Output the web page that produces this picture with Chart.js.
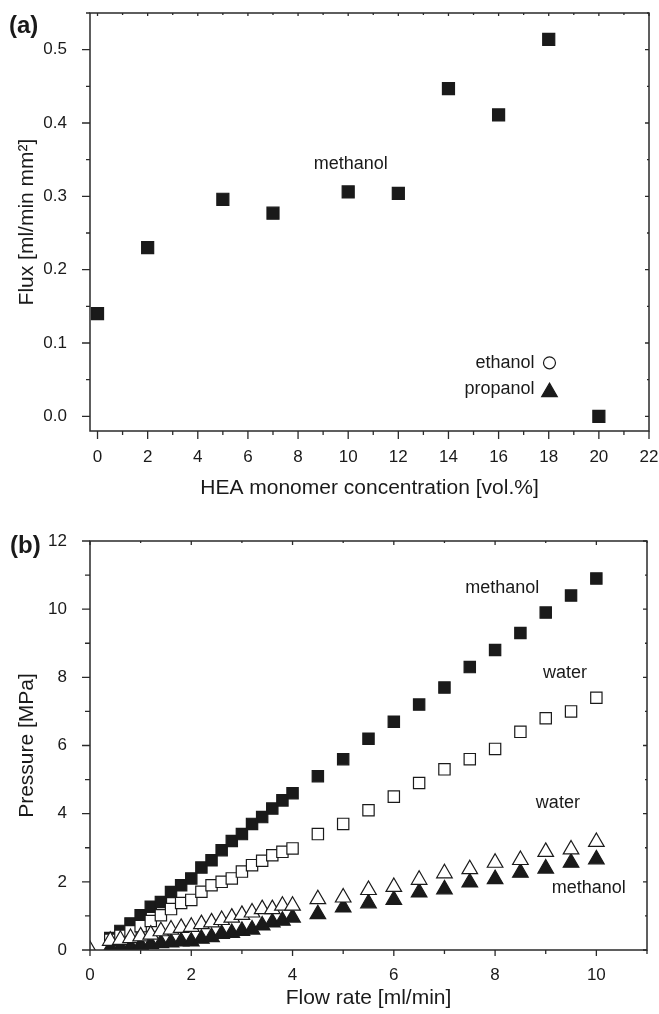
<!DOCTYPE html>
<html>
<head>
<meta charset="utf-8">
<script src="https://cdn.jsdelivr.net/npm/chart.js@4.4.0/dist/chart.umd.min.js"></script>
<style>
  body { margin: 0; background: #fff; }
  canvas { position: absolute; left: 0; }
  #fluxChart { top: 0; }
  #pressureChart { top: 507px; }
</style>
</head>
<body>
<canvas id="fluxChart" width="659" height="507"></canvas>
<canvas id="pressureChart" width="659" height="507"></canvas>
<script>
// (a) flux vs HEA monomer concentration
const heaConc = [0, 2, 5, 7, 10, 12, 14, 16, 18, 20];
const fluxMethanol = [0.14, 0.23, 0.296, 0.277, 0.306, 0.304, 0.447, 0.411, 0.514, 0.0];
const fluxEthanol = [];
const fluxPropanol = [];

// (b) pressure vs flow rate
const flowRate = [0, 0.4, 0.6, 0.8, 1.0, 1.2, 1.4, 1.6, 1.8, 2.0, 2.2, 2.4, 2.6, 2.8, 3.0, 3.2, 3.4, 3.6, 3.8, 4.0,
                  4.5, 5.0, 5.5, 6.0, 6.5, 7.0, 7.5, 8.0, 8.5, 9.0, 9.5, 10.0];
const pMethanolSq = [null, 0.35, 0.56, 0.78, 1.02, 1.27, 1.41, 1.7, 1.9, 2.1, 2.42, 2.63, 2.93, 3.2, 3.4, 3.7, 3.9, 4.15, 4.39, 4.6,
                     5.1, 5.6, 6.2, 6.7, 7.2, 7.7, 8.3, 8.8, 9.3, 9.9, 10.4, 10.9];
const pWaterSq = [null, 0.3, 0.42, 0.55, 0.7, 0.85, 1.02, 1.2, 1.38, 1.47, 1.71, 1.9, 2.0, 2.1, 2.3, 2.49, 2.62, 2.78, 2.88, 2.98,
                  3.4, 3.7, 4.1, 4.5, 4.9, 5.3, 5.6, 5.9, 6.4, 6.8, 7.0, 7.4];
const pWaterTri = [0, 0.27, 0.3, 0.35, 0.4, 0.45, 0.55, 0.6, 0.65, 0.68, 0.76, 0.81, 0.88, 0.95, 1.03, 1.1, 1.2, 1.2, 1.3, 1.3,
                   1.49, 1.54, 1.76, 1.85, 2.06, 2.25, 2.37, 2.56, 2.64, 2.88, 2.95, 3.17];
const pMethanolTri = [null, 0.05, 0.07, 0.1, 0.14, 0.17, 0.2, 0.22, 0.25, 0.25, 0.33, 0.38, 0.47, 0.5, 0.56, 0.6, 0.72, 0.81, 0.86, 0.95,
                      1.05, 1.25, 1.37, 1.47, 1.69, 1.78, 1.98, 2.08, 2.27, 2.39, 2.56, 2.66];

const ink = '#1a1a1a';
const fontFamily = "'Liberation Sans', Arial, Helvetica, sans-serif";
Chart.defaults.font.family = fontFamily;
Chart.defaults.color = ink;

function pts(xs, ys) { return xs.map((x, i) => ({ x: x, y: ys[i] })); }

function series(label, data, style, filled, radius) {
  return {
    label: label,
    data: data,
    pointStyle: style,
    pointRadius: radius,
    pointHoverRadius: radius,
    pointBackgroundColor: filled ? ink : '#fff',
    pointBorderColor: ink,
    pointBorderWidth: 1.2,
    showLine: false,
    clip: 0
  };
}

// box round the plot, with major/minor tick marks on all four sides
const framePlugin = {
  id: 'frame',
  afterDatasetsDraw(chart, args, o) {
    const { ctx, chartArea: a, scales: { x, y } } = chart;
    ctx.save();
    ctx.strokeStyle = '#2a2a2a';
    ctx.lineWidth = 1.5;
    ctx.strokeRect(a.left, a.top, a.right - a.left, a.bottom - a.top);
    ctx.lineWidth = 1.3;
    ctx.beginPath();
    const each = (scale, major, minor, fn) => {
      const ratio = Math.round(major / minor);
      for (let i = Math.ceil(scale.min / minor - 1e-9); i * minor <= scale.max + 1e-9; i++) {
        fn(scale.getPixelForValue(i * minor), i % ratio === 0);
      }
    };
    each(x, o.x[0], o.x[1], (px, maj) => {
      ctx.moveTo(px, a.bottom); ctx.lineTo(px, a.bottom + o.bottom[maj ? 0 : 1]);
      ctx.moveTo(px, a.top); ctx.lineTo(px, a.top + o.top[maj ? 0 : 1]);
    });
    each(y, o.y[0], o.y[1], (py, maj) => {
      ctx.moveTo(a.left, py); ctx.lineTo(a.left - o.left[maj ? 0 : 1], py);
      ctx.moveTo(a.right, py); ctx.lineTo(a.right - o.right[maj ? 0 : 1], py);
    });
    ctx.stroke();
    ctx.restore();
  }
};

// text labels inside the plot, the panel letter and the small key in (a)
const notesPlugin = {
  id: 'notes',
  afterDatasetsDraw(chart, args, o) {
    const { ctx, scales: { x, y } } = chart;
    ctx.save();
    ctx.fillStyle = ink;
    ctx.textBaseline = 'middle';
    ctx.textAlign = 'center';
    ctx.font = '18px ' + fontFamily;
    (o.items || []).forEach(n => ctx.fillText(n.text, x.getPixelForValue(n.x), y.getPixelForValue(n.y)));
    (o.key || []).forEach(k => {
      const ds = chart.data.datasets[k.dataset];
      const px = x.getPixelForValue(k.x), py = y.getPixelForValue(k.y);
      ctx.fillStyle = ink;
      ctx.textAlign = 'right';
      ctx.fillText(ds.label, px - 15, py + (k.dy || 0));
      ctx.fillStyle = ds.pointBackgroundColor;
      ctx.strokeStyle = ds.pointBorderColor;
      ctx.lineWidth = ds.pointBorderWidth;
      Chart.helpers.drawPoint(ctx, { pointStyle: ds.pointStyle, radius: k.radius, borderWidth: ds.pointBorderWidth, rotation: 0 }, px, py);
    });
    if (o.panel) {
      ctx.fillStyle = ink;
      ctx.textAlign = 'left';
      ctx.font = 'bold 24px ' + fontFamily;
      ctx.fillText(o.panel.text, o.panel.left, o.panel.top);
    }
    ctx.restore();
  }
};

function fixedBox(size, horizontal) {
  return s => {
    if (horizontal) s.height = size; else s.width = size;
    s.paddingLeft = s.paddingRight = s.paddingTop = s.paddingBottom = 0;
  };
}

function baseOptions(cfg) {
  return {
    responsive: false,
    animation: false,
    events: [],
    layout: { padding: cfg.padding },
    plugins: {
      legend: { display: false },
      tooltip: { enabled: false },
      frame: cfg.frame,
      notes: cfg.notes
    },
    scales: {
      x: {
        type: 'linear',
        min: cfg.x.min, max: cfg.x.max,
        afterFit: fixedBox(cfg.x.box, true),
        grid: { display: false },
        border: { display: false },
        ticks: { stepSize: cfg.x.step, includeBounds: false, autoSkip: false, maxRotation: 0,
                 padding: cfg.x.pad, font: { size: 17 }, color: ink },
        title: { display: true, text: cfg.x.title, color: ink, font: { size: 21 },
                 padding: { top: 0, bottom: cfg.x.titlePad } }
      },
      y: {
        type: 'linear',
        min: cfg.y.min, max: cfg.y.max,
        afterFit: fixedBox(cfg.y.box, false),
        grid: { display: false },
        border: { display: false },
        ticks: { stepSize: cfg.y.step, includeBounds: false, autoSkip: false,
                 padding: cfg.y.pad, font: { size: 17 }, color: ink,
                 callback: cfg.y.fmt },
        title: { display: true, text: cfg.y.title, color: ink, font: { size: 21 },
                 padding: { top: cfg.y.titlePad, bottom: 0 } }
      }
    }
  };
}

new Chart(document.getElementById('fluxChart'), {
  type: 'scatter',
  data: {
    datasets: [
      series('methanol', pts(heaConc, fluxMethanol), 'rect', true, 8.5),
      series('ethanol', fluxEthanol, 'circle', false, 6),
      series('propanol', fluxPropanol, 'triangle', true, 9)
    ]
  },
  options: baseOptions({
    padding: { left: 0, right: 10, top: 13, bottom: 0 },
    x: { min: -0.3, max: 22, step: 2, box: 76, pad: 8, title: 'HEA monomer concentration [vol.%]', titlePad: 6 },
    y: { min: -0.02, max: 0.55, step: 0.1, box: 90, pad: 15, title: 'Flux [ml/min mm²]', titlePad: 15,
         fmt: v => v.toFixed(1) },
    frame: { x: [2, 1], y: [0.1, 0.05], left: [8, 4], bottom: [8, 4], top: [3, 2], right: [4, 2] },
    notes: {
      items: [{ text: 'methanol', x: 10.1, y: 0.344 }],
      key: [
        { dataset: 1, x: 18.03, y: 0.073, radius: 6 },
        { dataset: 2, x: 18.03, y: 0.033, radius: 9, dy: -3 }
      ],
      panel: { text: '(a)', left: 9, top: 26 }
    }
  }),
  plugins: [framePlugin, notesPlugin]
});

new Chart(document.getElementById('pressureChart'), {
  type: 'scatter',
  data: {
    datasets: [
      series('water', pts(flowRate, pWaterTri), 'triangle', false, 9),
      series('methanol', pts(flowRate, pMethanolTri), 'triangle', true, 9),
      series('water', pts(flowRate, pWaterSq), 'rect', false, 8),
      series('methanol', pts(flowRate, pMethanolSq), 'rect', true, 8)
    ]
  },
  options: baseOptions({
    padding: { left: 0, right: 12, top: 34, bottom: 0 },
    x: { min: 0, max: 11, step: 2, box: 64, pad: 7, title: 'Flow rate [ml/min]', titlePad: 3 },
    y: { min: 0, max: 12, step: 2, box: 90, pad: 15, title: 'Pressure [MPa]', titlePad: 15,
         fmt: v => String(v) },
    frame: { x: [2, 1], y: [2, 1], left: [8, 5], bottom: [6, 4], top: [4, 2], right: [4, 2] },
    notes: {
      items: [
        { text: 'methanol', x: 8.14, y: 10.62 },
        { text: 'water', x: 9.38, y: 8.13 },
        { text: 'water', x: 9.24, y: 4.31 },
        { text: 'methanol', x: 9.85, y: 1.82 }
      ],
      panel: { text: '(b)', left: 10, top: 39 }
    }
  }),
  plugins: [framePlugin, notesPlugin]
});
</script>
</body>
</html>
